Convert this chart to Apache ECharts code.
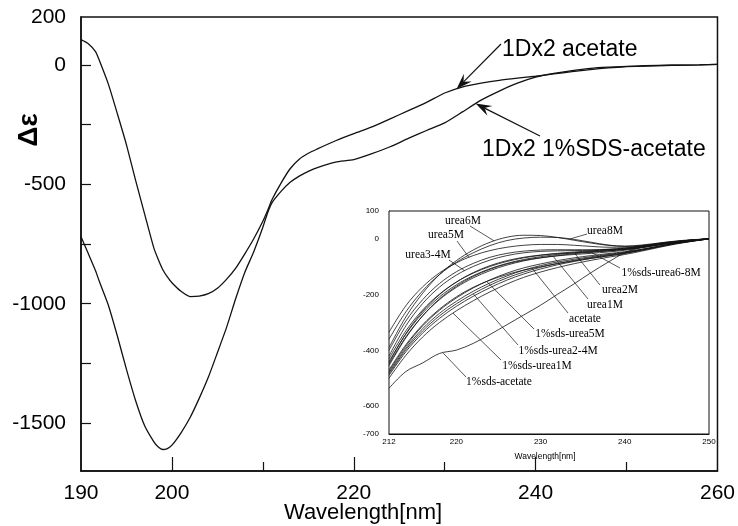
<!DOCTYPE html>
<html><head><meta charset="utf-8">
<script src="https://cdn.jsdelivr.net/npm/echarts@6/dist/echarts.min.js"></script>
<style>html,body{margin:0;padding:0;background:#fff}#c{width:738px;height:526px}</style>
</head><body><div id="c"></div>
<script>
// ---------- main chart data ----------
const mainWl = [190,190.8,191.6,192,193,194,195,196,197,198,198.5,199,199.5,200,201,202,203,204,205,206,207,208,209,210,210.5,211,212,213,214,215,216,218,220,222,224,226,228,230,232,234,236,238,240,242,244,246,248,250,252,255,258,260];
const dx2Acetate = [105,88,55,20,-80,-205,-335,-483,-625,-765,-815,-858,-888,-912,-948,-970,-968,-958,-935,-898,-852,-792,-728,-655,-612,-565,-495,-435,-395,-370,-352,-318,-288,-260,-226,-192,-157,-118,-92,-77,-65,-56,-48,-38,-29,-20,-13,-8,-5,-2,0,2];
const dx2SdsAcetate = [-720,-790,-862,-905,-1005,-1135,-1275,-1405,-1511,-1577,-1600,-1610,-1606,-1592,-1540,-1476,-1396,-1308,-1205,-1100,-980,-870,-782,-680,-622,-578,-530,-492,-466,-446,-430,-407,-397,-372,-343,-308,-275,-243,-196,-148,-110,-77,-52,-36,-24,-15,-10,-7,-4,-2,0,2];
const mainXTickLabels = [190,200,220,240,260];
const mainXMajorTicks = [200,220,240];
const mainXMinorTicks = [210,230,250];
const mainYTickLabels = [200,0,-500,-1000,-1500];
const mainYTicks = [0,-250,-500,-750,-1000,-1250,-1500];

// ---------- inset data ----------
const insetWl = [212,214,216,218,220,222,224,226,228,230,232,234,236,238,240,242,244,246,248,250];
const urea6M = [-390,-280,-195,-128,-78,-40,-12,6,13,12,5,-5,-15,-23,-26,-22,-15,-9,-4,0];
const urea8M = [-360,-262,-186,-128,-84,-50,-24,-6,3,6,5,-2,-12,-22,-27,-24,-17,-10,-4,0];
const urea5M = [-335,-240,-172,-122,-86,-60,-42,-30,-23,-20,-20,-23,-27,-30,-30,-25,-17,-10,-4,0];
const urea4M = [-400,-295,-218,-160,-118,-88,-66,-52,-44,-40,-39,-39,-39,-37,-33,-26,-18,-10,-4,0];
const urea3M = [-420,-312,-232,-173,-130,-99,-76,-60,-50,-45,-43,-42,-41,-38,-34,-27,-19,-11,-5,0];
const urea2M = [-445,-340,-260,-200,-155,-121,-96,-78,-66,-58,-53,-50,-47,-43,-38,-30,-21,-12,-5,0];
const urea1M = [-455,-355,-276,-215,-170,-135,-109,-90,-77,-68,-61,-56,-52,-47,-41,-32,-22,-13,-6,0];
const acetate = [-470,-380,-308,-252,-208,-174,-148,-128,-112,-100,-89,-79,-70,-61,-52,-40,-28,-17,-8,0];
const sdsUrea8M = [-430,-330,-255,-198,-155,-123,-99,-81,-68,-59,-52,-47,-43,-39,-35,-28,-20,-11,-5,0];
const sdsUrea7M = [-440,-342,-266,-208,-165,-132,-107,-88,-74,-64,-56,-50,-45,-41,-37,-30,-21,-12,-5,0];
const sdsUrea6M = [-450,-352,-276,-218,-174,-140,-114,-94,-79,-68,-60,-53,-48,-43,-38,-31,-22,-13,-6,0];
const sdsUrea5M = [-475,-385,-312,-256,-212,-176,-147,-123,-104,-90,-78,-68,-60,-53,-46,-37,-26,-15,-7,0];
const sdsUrea4M = [-480,-392,-322,-267,-224,-188,-158,-133,-112,-96,-83,-73,-64,-56,-48,-38,-27,-16,-7,0];
const sdsUrea3M = [-485,-398,-330,-276,-233,-197,-166,-140,-119,-102,-88,-77,-67,-58,-50,-40,-28,-17,-8,0];
const sdsUrea2M = [-490,-405,-338,-285,-242,-206,-175,-148,-126,-108,-93,-81,-70,-61,-52,-41,-29,-17,-8,0];
const sdsUrea1M = [-500,-418,-352,-300,-258,-222,-190,-162,-138,-119,-103,-89,-77,-66,-56,-44,-31,-19,-9,0];
const sdsAcetate = [-536,-476,-445,-411,-399,-375,-343,-308,-273,-238,-199,-161,-121,-84,-50,-30,-16,-8,-3,0];
const insetXTickLabels = [212,220,230,240,250];
const insetXTicks = [215,220,225,230,235,240,245];
const insetYTickLabels = [100,0,-200,-400,-600,-700];
const insetYTicks = [0,-100,-200,-300,-400,-500,-600];

const insetCurves = [
  ['urea6M', urea6M], ['urea8M', urea8M], ['urea5M', urea5M], ['urea4M', urea4M], ['urea3M', urea3M],
  ['urea2M', urea2M], ['urea1M', urea1M], ['acetate', acetate],
  ['1%sds-urea8M', sdsUrea8M], ['1%sds-urea7M', sdsUrea7M], ['1%sds-urea6M', sdsUrea6M],
  ['1%sds-urea5M', sdsUrea5M], ['1%sds-urea4M', sdsUrea4M], ['1%sds-urea3M', sdsUrea3M],
  ['1%sds-urea2M', sdsUrea2M], ['1%sds-urea1M', sdsUrea1M], ['1%sds-acetate', sdsAcetate]
];

const SANS = '"Liberation Sans", Arial, Helvetica, sans-serif';
const SERIF = '"Liberation Serif", "Times New Roman", serif';
const plain = v => String(v);
function pairs(xs, ys) { return xs.map((x, i) => [x, ys[i]]); }
function interp(xs, ys, x) {
  for (let i = 0; i < xs.length - 1; i++) {
    if (x >= xs[i] && x <= xs[i + 1]) {
      const t = (x - xs[i]) / (xs[i + 1] - xs[i]);
      return ys[i] + t * (ys[i + 1] - ys[i]);
    }
  }
  return ys[ys.length - 1];
}

const chart = echarts.init(document.getElementById('c'), null, { renderer: 'canvas' });
const black = '#111';

const series = [
  { name: '1Dx2 acetate', type: 'line', xAxisIndex: 0, yAxisIndex: 0, data: pairs(mainWl, dx2Acetate),
    symbol: 'none', smooth: 0.2, lineStyle: { color: black, width: 1.3 }, z: 3 },
  { name: '1Dx2 1%SDS-acetate', type: 'line', xAxisIndex: 0, yAxisIndex: 0, data: pairs(mainWl, dx2SdsAcetate),
    symbol: 'none', smooth: 0.2, lineStyle: { color: black, width: 1.3 }, z: 3 }
];
insetCurves.forEach(([n, arr]) => {
  series.push({ name: n, type: 'line', xAxisIndex: 2, yAxisIndex: 1, data: pairs(insetWl, arr),
    symbol: 'none', smooth: 0.35, lineStyle: { color: black, width: 0.8 }, z: 4 });
});

const option = {
  animation: false,
  backgroundColor: '#fff',
  grid: [
    { left: 81, right: 18, top: 17, bottom: 55, show: true, borderColor: black, borderWidth: 1.5, backgroundColor: 'transparent' },
    { left: 389, right: 29, top: 211, bottom: 92, show: true, borderColor: black, borderWidth: 1, backgroundColor: '#fff', z: 2 }
  ],
  xAxis: [
    { type: 'value', gridIndex: 0, min: 190, max: 260, position: 'bottom',
      axisLine: { onZero: false, lineStyle: { color: black, width: 1.5 } },
      axisTick: { inside: true, length: 14, customValues: mainXMajorTicks, lineStyle: { color: black, width: 1.2 } },
      axisLabel: { customValues: mainXTickLabels, formatter: plain, fontSize: 21, fontFamily: SANS, color: '#000', margin: 12 },
      splitLine: { show: false } },
    { type: 'value', gridIndex: 0, min: 190, max: 260, position: 'bottom',
      axisLine: { show: false, onZero: false },
      axisTick: { inside: true, length: 9, customValues: mainXMinorTicks, lineStyle: { color: black, width: 1.2 } },
      axisLabel: { show: false }, splitLine: { show: false } },
    { type: 'value', gridIndex: 1, min: 212, max: 250, position: 'bottom',
      axisLine: { onZero: false, lineStyle: { color: black, width: 1 } },
      axisTick: { inside: true, length: 4, customValues: insetXTicks, lineStyle: { color: black, width: 0.8 } },
      axisLabel: { customValues: insetXTickLabels, formatter: plain, fontSize: 8, fontFamily: SANS, color: '#000', margin: 4 },
      splitLine: { show: false } }
  ],
  yAxis: [
    { type: 'value', gridIndex: 0, min: -1700, max: 200, position: 'left',
      axisLine: { onZero: false, lineStyle: { color: black, width: 1.5 } },
      axisTick: { inside: true, length: 10, customValues: mainYTicks, lineStyle: { color: black, width: 1.2 } },
      axisLabel: { customValues: mainYTickLabels, formatter: plain, fontSize: 21, fontFamily: SANS, color: '#000', margin: 15 },
      splitLine: { show: false } },
    { type: 'value', gridIndex: 1, min: -700, max: 100, position: 'left',
      axisLine: { onZero: false, lineStyle: { color: black, width: 1 } },
      axisTick: { inside: true, length: 4, customValues: insetYTicks, lineStyle: { color: black, width: 0.8 } },
      axisLabel: { customValues: insetYTickLabels, formatter: plain, fontSize: 8, fontFamily: SANS, color: '#000', margin: 10 },
      splitLine: { show: false } }
  ],
  series: series
};
chart.setOption(option);

// ---------- annotations ----------
const g = [];
function text(t, x, y, size, font, opts) {
  g.push(Object.assign({ type: 'text', x: x, y: y, z: 20,
    style: Object.assign({ text: t, fontSize: size, fontFamily: font, fill: '#000', align: 'center', verticalAlign: 'middle' }, (opts && opts.style) || {}) },
    opts && opts.rotation !== undefined ? { rotation: opts.rotation } : {}));
}
function seg(x0, y0, x1, y1, w) {
  g.push({ type: 'line', z: 20, shape: { x1: x0, y1: y0, x2: x1, y2: y1 }, style: { stroke: black, lineWidth: w } });
}
function arrow(x0, y0, x1, y1) {
  const dx = x1 - x0, dy = y1 - y0, L = Math.hypot(dx, dy), ux = dx / L, uy = dy / L, px = -uy, py = ux;
  const len = 16, w = 5.5, notch = 10;
  const bx = x1 - ux * len, by = y1 - uy * len;
  const nx = x1 - ux * notch, ny = y1 - uy * notch;
  seg(x0, y0, nx, ny, 1.2);
  g.push({ type: 'polygon', z: 21, shape: { points: [[x1, y1], [bx + px * w, by + py * w], [nx, ny], [bx - px * w, by - py * w]] },
    style: { fill: black } });
}

// axis titles
text('Δε', 29, 130, 28, SANS, { rotation: Math.PI / 2, style: { fontWeight: 'bold' } });
text('Wavelength[nm]', 363, 513, 22, SANS);
text('Wavelength[nm]', 545, 457, 8.5, SANS);

// main annotations
text('1Dx2 acetate', 502, 50, 23, SANS, { style: { align: 'left' } });
text('1Dx2 1%SDS-acetate', 482, 150, 23, SANS, { style: { align: 'left' } });
const tipA = chart.convertToPixel({ xAxisIndex: 0, yAxisIndex: 0 }, [231.3, interp(mainWl, dx2Acetate, 231.3)]);
const tipB = chart.convertToPixel({ xAxisIndex: 0, yAxisIndex: 0 }, [233.4, interp(mainWl, dx2SdsAcetate, 233.4)]);
arrow(501, 44, tipA[0], tipA[1]);
arrow(540, 136, tipB[0], tipB[1]);

// inset labels with leaders
const insetLabels = [
  { t: 'urea6M', x: 463, y: 221, sx: 470, sy: 226, curve: urea6M, wl: 224.5 },
  { t: 'urea5M', x: 446, y: 235, sx: 457, sy: 241, curve: urea5M, wl: 221.5 },
  { t: 'urea3-4M', x: 428, y: 255, sx: 449, sy: 260, curve: urea3M, wl: 221 },
  { t: 'urea8M', x: 605, y: 231, sx: 587, sy: 234, curve: urea8M, wl: 233.5 },
  { t: '1%sds-urea6-8M', x: 661, y: 273, sx: 620, sy: 268, curve: sdsUrea6M, wl: 236 },
  { t: 'urea2M', x: 620, y: 290, sx: 600, sy: 285, curve: urea2M, wl: 234 },
  { t: 'urea1M', x: 605, y: 305, sx: 588, sy: 299, curve: urea1M, wl: 231.5 },
  { t: 'acetate', x: 585, y: 319, sx: 568, sy: 313, curve: acetate, wl: 229 },
  { t: '1%sds-urea5M', x: 570, y: 334, sx: 534, sy: 329, curve: sdsUrea5M, wl: 223.6 },
  { t: '1%sds-urea2-4M', x: 558, y: 351, sx: 518, sy: 345, curve: sdsUrea3M, wl: 222 },
  { t: '1%sds-urea1M', x: 537, y: 366, sx: 501, sy: 360, curve: sdsUrea1M, wl: 219.6 },
  { t: '1%sds-acetate', x: 499, y: 382, sx: 466, sy: 377, curve: sdsAcetate, wl: 218.4 }
];
insetLabels.forEach(l => {
  text(l.t, l.x, l.y, 11.5, SERIF);
  const p = chart.convertToPixel({ xAxisIndex: 2, yAxisIndex: 1 }, [l.wl, interp(insetWl, l.curve, l.wl)]);
  seg(l.sx, l.sy, p[0], p[1], 0.7);
});

chart.setOption({ graphic: { elements: g } });
</script></body></html>
